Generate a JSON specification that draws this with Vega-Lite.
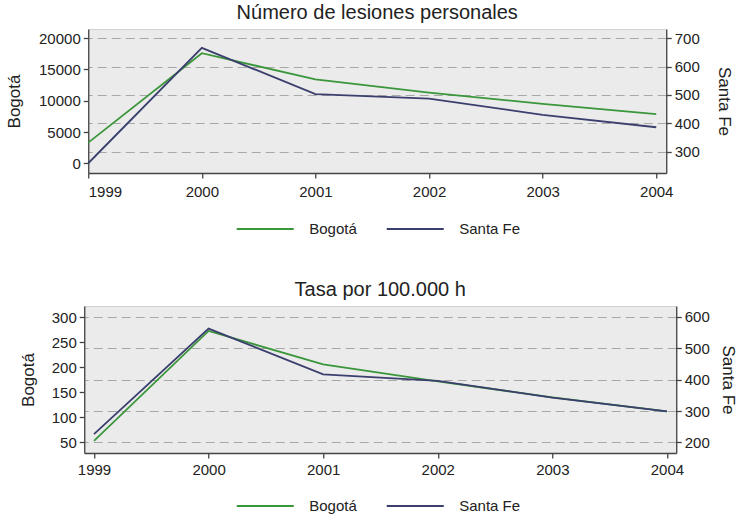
{
  "$schema": "https://vega.github.io/schema/vega-lite/v6.json",
  "padding": {"left": 5, "top": 2, "right": 0, "bottom": 0},
  "background": "white",
  "config": {
    "font": "Liberation Sans",
    "view": {"fill": "#ebebeb", "stroke": "#d2d2d2", "strokeWidth": 1},
    "axis": {"domainColor": "#444444", "tickColor": "#444444", "labelColor": "#222222", "titleColor": "#222222", "labelFontSize": 15, "titleFontSize": 17, "titleFontWeight": "normal", "tickSize": 5, "labelPadding": 3, "domainWidth": 1.3, "tickWidth": 1.3},
    "title": {"fontSize": 20, "fontWeight": "normal", "color": "#222222", "offset": 6},
    "legend": {"title": null, "orient": "none", "direction": "horizontal", "symbolType": "stroke", "symbolSize": 3250, "symbolStrokeWidth": 2, "labelFontSize": 15, "labelColor": "#222222", "columnPadding": 25, "labelOffset": 14}
  },
  "datasets": {
    "d": [
      {"panel": "A", "year": 1999, "bogota": 3300, "santafe": 259},
      {"panel": "A", "year": 2000, "bogota": 17600, "santafe": 666},
      {"panel": "A", "year": 2001, "bogota": 13400, "santafe": 503},
      {"panel": "A", "year": 2002, "bogota": 11300, "santafe": 487},
      {"panel": "A", "year": 2003, "bogota": 9500, "santafe": 430},
      {"panel": "A", "year": 2004, "bogota": 7850, "santafe": 386},
      {"panel": "B", "year": 1999, "bogota": 53, "santafe": 226},
      {"panel": "B", "year": 2000, "bogota": 273, "santafe": 563},
      {"panel": "B", "year": 2001, "bogota": 206, "santafe": 417},
      {"panel": "B", "year": 2002, "bogota": 172, "santafe": 396},
      {"panel": "B", "year": 2003, "bogota": 140, "santafe": 343},
      {"panel": "B", "year": 2004, "bogota": 112, "santafe": 299}
    ]
  },
  "center": true,
  "spacing": 41,
  "resolve": {"scale": {"color": "independent"}},
  "vconcat": [
    {
      "title": "Número de lesiones personales",
      "width": 578,
      "height": 144,
      "data": {"name": "d"},
      "transform": [{"filter": "datum.panel === 'A'"}],
      "encoding": {
        "x": {"field": "year", "type": "quantitative", "scale": {"domain": [1999, 2004.088], "nice": false, "zero": false},
              "axis": {"values": [1999, 2000, 2001, 2002, 2003, 2004], "format": "d", "title": null, "grid": false, "labelPadding": 6}}
      },
      "layer": [
        {
          "mark": {"type": "line", "strokeWidth": 1.8},
          "encoding": {
            "y": {"field": "bogota", "type": "quantitative", "scale": {"domain": [-1550, 21470], "nice": false, "zero": false},
                  "axis": {"orient": "left", "title": "Bogotá", "values": [0, 5000, 10000, 15000, 20000], "format": "d", "grid": false, "titlePadding": 15}},
            "color": {"datum": "Bogotá", "type": "nominal", "scale": {"domain": ["Bogotá", "Santa Fe"], "range": ["#3a963a", "#3b3f6e"]},
                      "legend": {"legendX": 147, "legendY": 170}}
          }
        },
        {
          "mark": {"type": "line", "strokeWidth": 1.8},
          "encoding": {
            "y": {"field": "santafe", "type": "quantitative", "scale": {"domain": [224.6, 732.6], "nice": false, "zero": false},
                  "axis": {"orient": "right", "title": "Santa Fe", "values": [300, 400, 500, 600, 700], "format": "d", "grid": true, "gridDash": [9, 5], "gridColor": "#a8a8a8", "gridWidth": 1.2, "titlePadding": 15}},
            "color": {"datum": "Santa Fe", "type": "nominal"}
          }
        }
      ],
      "resolve": {"scale": {"y": "independent"}}
    },
    {
      "title": "Tasa por 100.000 h",
      "width": 592,
      "height": 147,
      "data": {"name": "d"},
      "transform": [{"filter": "datum.panel === 'B'"}],
      "encoding": {
        "x": {"field": "year", "type": "quantitative", "scale": {"domain": [1998.915, 2004.081], "nice": false, "zero": false},
              "axis": {"values": [1999, 2000, 2001, 2002, 2003, 2004], "format": "d", "title": null, "grid": false, "labelPadding": 4}}
      },
      "layer": [
        {
          "mark": {"type": "line", "strokeWidth": 1.8},
          "encoding": {
            "y": {"field": "bogota", "type": "quantitative", "scale": {"domain": [28.6, 323], "nice": false, "zero": false},
                  "axis": {"orient": "left", "title": "Bogotá", "values": [50, 100, 150, 200, 250, 300], "format": "d", "grid": false, "titlePadding": 13.5}},
            "color": {"datum": "Bogotá", "type": "nominal", "scale": {"domain": ["Bogotá", "Santa Fe"], "range": ["#3a963a", "#3b3f6e"]},
                      "legend": {"legendX": 151, "legendY": 170}}
          }
        },
        {
          "mark": {"type": "line", "strokeWidth": 1.8},
          "encoding": {
            "y": {"field": "santafe", "type": "quantitative", "scale": {"domain": [166, 635], "nice": false, "zero": false},
                  "axis": {"orient": "right", "title": "Santa Fe", "values": [200, 300, 400, 500, 600], "format": "d", "grid": true, "gridDash": [9, 5], "gridColor": "#a8a8a8", "gridWidth": 1.2, "titlePadding": 9}},
            "color": {"datum": "Santa Fe", "type": "nominal"}
          }
        }
      ],
      "resolve": {"scale": {"y": "independent"}}
    }
  ]
}
